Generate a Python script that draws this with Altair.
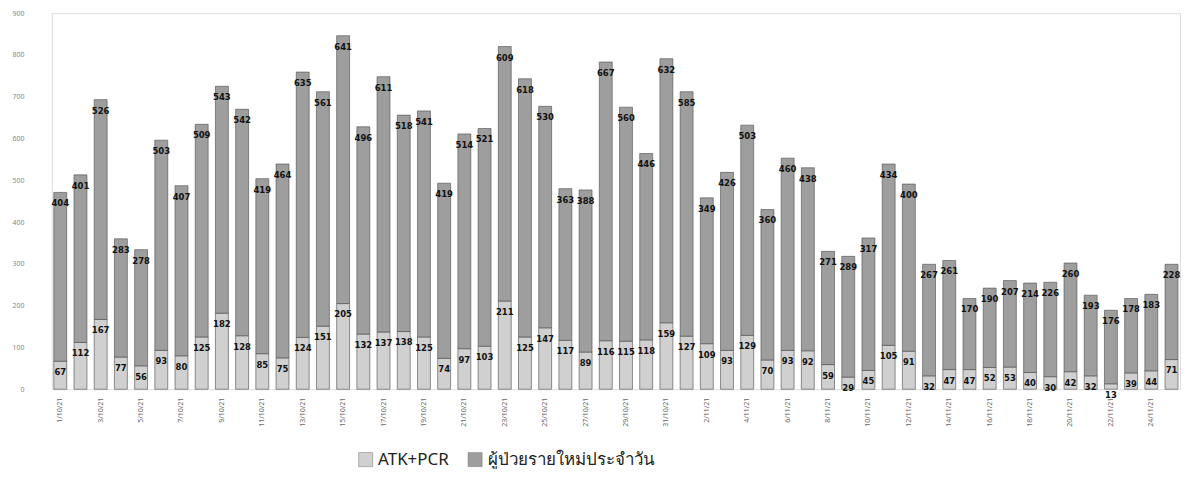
import altair as alt
import pandas as pd

dates = [
    "1/10/21", "2/10/21", "3/10/21", "4/10/21", "5/10/21", "6/10/21", "7/10/21",
    "8/10/21", "9/10/21", "10/10/21", "11/10/21", "12/10/21", "13/10/21", "14/10/21",
    "15/10/21", "16/10/21", "17/10/21", "18/10/21", "19/10/21", "20/10/21", "21/10/21",
    "22/10/21", "23/10/21", "24/10/21", "25/10/21", "26/10/21", "27/10/21", "28/10/21",
    "29/10/21", "30/10/21", "31/10/21", "1/11/21", "2/11/21", "3/11/21", "4/11/21",
    "5/11/21", "6/11/21", "7/11/21", "8/11/21", "9/11/21", "10/11/21", "11/11/21",
    "12/11/21", "13/11/21", "14/11/21", "15/11/21", "16/11/21", "17/11/21", "18/11/21",
    "19/11/21", "20/11/21", "21/11/21", "22/11/21", "23/11/21", "24/11/21", "25/11/21",
]
tick_labels = dates[::2]

atk_pcr = [67, 112, 167, 77, 56, 93, 80, 125, 182, 128,
           85, 75, 124, 151, 205, 132, 137, 138, 125, 74,
           97, 103, 211, 125, 147, 117, 89, 116, 115, 118,
           159, 127, 109, 93, 129, 70, 93, 92, 59, 29,
           45, 105, 91, 32, 47, 47, 52, 53, 40, 30,
           42, 32, 13, 39, 44, 71]
new_cases = [404, 401, 526, 283, 278, 503, 407, 509, 543, 542,
             419, 464, 635, 561, 641, 496, 611, 518, 541, 419,
             514, 521, 609, 618, 530, 363, 388, 667, 560, 446,
             632, 585, 349, 426, 503, 360, 460, 438, 271, 289,
             317, 434, 400, 267, 261, 170, 190, 207, 214, 226,
             260, 193, 176, 178, 183, 228]

series_names = ["ATK+PCR", "ผู้ป่วยรายใหม่ประจำวัน"]
series_colors = ["#d0d0d0", "#9e9e9e"]

rows = []
for i, d in enumerate(dates):
    rows.append({"date": d, "series": series_names[0], "value": atk_pcr[i], "ord": 0})
    rows.append({"date": d, "series": series_names[1], "value": new_cases[i], "ord": 1})
df = pd.DataFrame(rows)

base = alt.Chart(df).transform_stack(
    stack="value", groupby=["date"], sort=[alt.SortField("ord", order="ascending")], as_=["v0", "v1"]
)

x_axis = alt.Axis(
    values=tick_labels, labelAngle=-90, labelFontSize=7, labelColor="#666",
    ticks=False, domain=False, grid=False, labelPadding=8, title=None,
)
y_axis = alt.Axis(
    values=list(range(0, 1000, 100)), grid=False, domain=False, ticks=False,
    labelFontSize=7, labelColor="#888", labelPadding=28, title=None,
)
x_scale = alt.Scale(paddingInner=0.36, paddingOuter=0.1)
y_scale = alt.Scale(domain=[0, 900], nice=False)

bars = base.mark_bar(stroke="#4a4a4a", strokeWidth=0.6).encode(
    x=alt.X("date:N", sort=dates, scale=x_scale, axis=x_axis),
    y=alt.Y("v1:Q", scale=y_scale, axis=y_axis),
    y2="v0:Q",
    color=alt.Color(
        "series:N",
        scale=alt.Scale(domain=series_names, range=series_colors),
        legend=alt.Legend(
            orient="none", legendX=307, legendY=440, direction="horizontal",
            title=None, symbolType="square", symbolSize=200, symbolStrokeColor="#777",
            symbolStrokeWidth=0.5, labelFontSize=17, labelColor="#222",
            columnPadding=18, labelLimit=400,
        ),
    ),
    order=alt.Order("ord:Q"),
)

labels = base.mark_text(
    font="DejaVu Sans", fontSize=8.5, fontWeight="bold", color="#111", baseline="middle", dy=11
).encode(
    x=alt.X("date:N", sort=dates, scale=x_scale, axis=x_axis),
    y=alt.Y("v1:Q", scale=y_scale, axis=y_axis),
    text="value:Q",
)

chart = (
    alt.layer(bars, labels)
    .properties(width=1134, height=378, padding={"left": 3, "top": 0, "right": 0, "bottom": 0})
    .configure_view(stroke="#ffffff", strokeWidth=0)
    .configure_axis(grid=False)
    .configure(font="Noto Sans")
)

chart.save("out.html", embed_options={"renderer": "svg", "actions": False})
